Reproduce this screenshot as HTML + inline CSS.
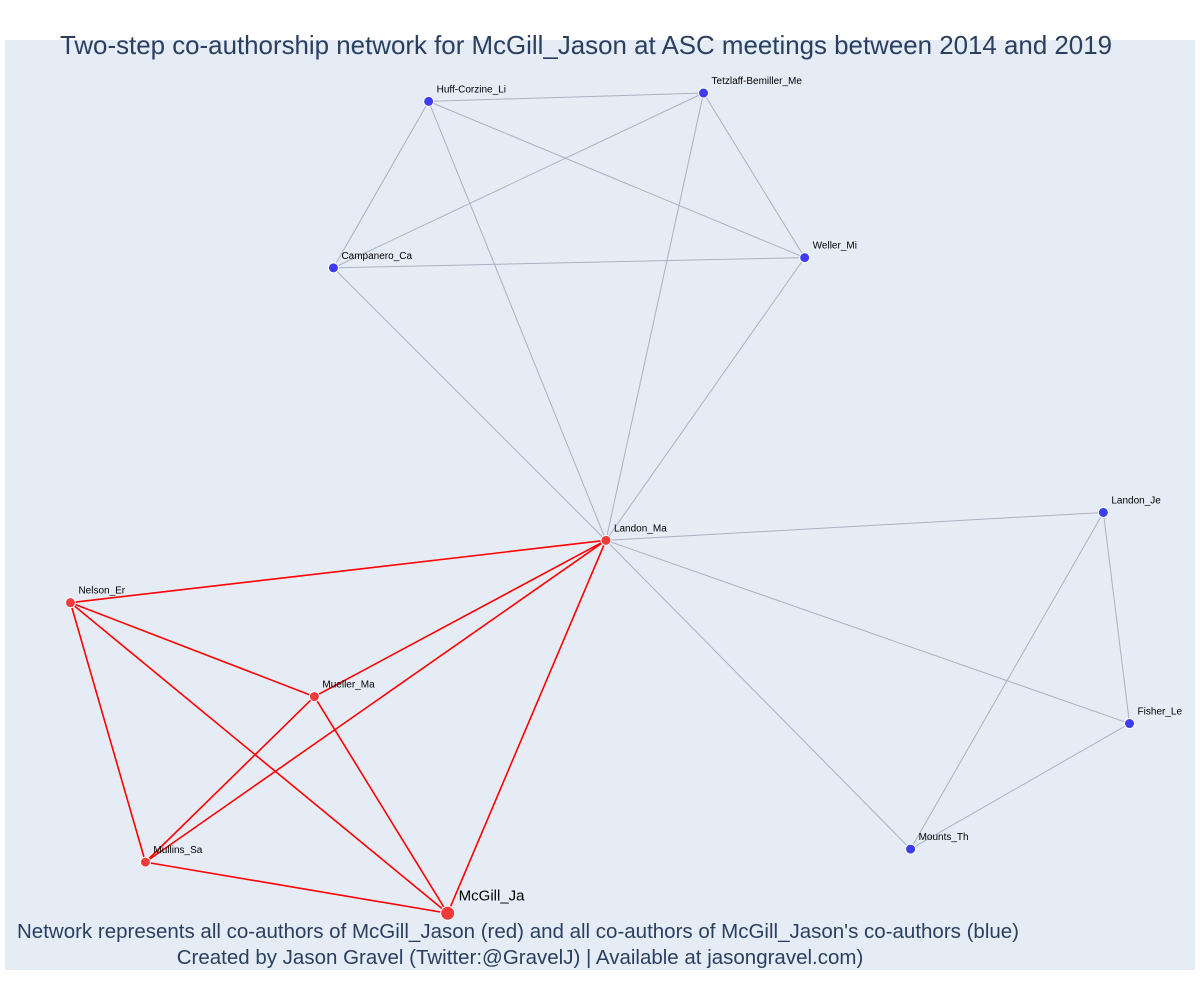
<!DOCTYPE html>
<html><head><meta charset="utf-8"><style>
body{margin:0;background:#fff;font-family:"Liberation Sans",sans-serif}
svg{display:block}
</style></head><body>
<svg id="chart" width="1200" height="1000">
<rect x="0" y="0" width="1200" height="1000" fill="#fff"/>
<rect x="5" y="40" width="1190" height="930" fill="#e5ecf6"/>
<g id="edges"></g><g id="nodes"></g><g id="labels"></g>
<text x="586" y="54" text-anchor="middle" font-size="25.9" fill="#2a3f5f">Two-step co-authorship network for McGill_Jason at ASC meetings between 2014 and 2019</text>
<text x="518" y="938" text-anchor="middle" font-size="20.5" fill="#2a3f5f">Network represents all co-authors of McGill_Jason (red) and all co-authors of McGill_Jason's co-authors (blue)</text>
<text x="520" y="964" text-anchor="middle" font-size="20.5" fill="#2a3f5f">Created by Jason Gravel (Twitter:@GravelJ) | Available at jasongravel.com)</text>
</svg>
<script>
const nodeNames=["Huff-Corzine_Li","Tetzlaff-Bemiller_Me","Campanero_Ca","Weller_Mi","Landon_Ma","Landon_Je","Nelson_Er","Mueller_Ma","Fisher_Le","Mounts_Th","Mullins_Sa","McGill_Ja"];
const nodeX=[35.6,58.7,27.6,67.2,50.5,92.3,5.5,26.0,94.5,76.1,11.8,37.2];
const nodeY=[93.4,94.3,75.5,76.6,46.2,49.2,39.5,29.4,26.5,13.0,11.6,6.1];
const nodeGroup=["blue","blue","blue","blue","red","blue","red","red","blue","blue","red","ego"];
const grayEdges=[[0,1],[0,2],[0,3],[0,4],[1,2],[1,3],[1,4],[2,3],[2,4],[3,4],[4,5],[4,8],[4,9],[5,8],[5,9],[8,9]];
const redEdges=[[4,6],[4,7],[4,10],[4,11],[6,7],[6,10],[6,11],[7,10],[7,11],[10,11]];
const NS="http://www.w3.org/2000/svg";
const xs=v=>5+v/100*1190, ys=v=>970-v/100*930;
function mk(t,a){const e=document.createElementNS(NS,t);for(const k in a)e.setAttribute(k,a[k]);return e;}
const eg=document.getElementById('edges'),ng=document.getElementById('nodes'),lg=document.getElementById('labels');
grayEdges.forEach(([a,b])=>{const l=mk('line',{x1:xs(nodeX[a]),y1:ys(nodeY[a]),x2:xs(nodeX[b]),y2:ys(nodeY[b]),stroke:'#aab0c0','stroke-width':1});

eg.appendChild(l);});
redEdges.forEach(([a,b])=>{const l=mk('line',{x1:xs(nodeX[a]),y1:ys(nodeY[a]),x2:xs(nodeX[b]),y2:ys(nodeY[b]),stroke:'#ff0000','stroke-width':1.6});

eg.appendChild(l);});
nodeNames.forEach((n,i)=>{const ego=nodeGroup[i]==='ego';const x=xs(nodeX[i]),y=ys(nodeY[i]);
const c=mk('circle',{cx:x,cy:y,r:ego?7:5,fill:nodeGroup[i]==='blue'?'#3c3cf0':'#f23c3c',stroke:'#fff','stroke-width':1});

ng.appendChild(c);
const t=mk('text',{x:x+(ego?11:8),y:y-(ego?13:9),'font-size':ego?15:10,fill:'#000'});t.textContent=n;

lg.appendChild(t);});
</script>
</body></html>
